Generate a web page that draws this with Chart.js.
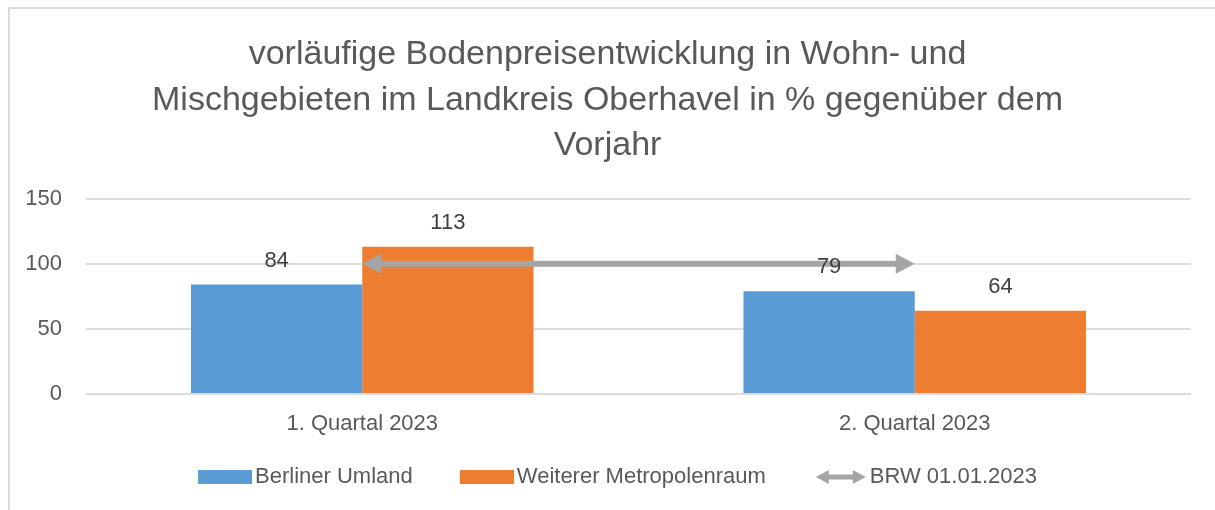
<!DOCTYPE html>
<html>
<head>
<meta charset="utf-8">
<script src="https://cdn.jsdelivr.net/npm/chart.js@4"></script>
<style>
  html, body { margin: 0; padding: 0; background: #fff; }
  #wrap { position: relative; width: 1215px; height: 510px; overflow: hidden; }
  #frame { position: absolute; left: 8px; top: 7px; width: 1300px; height: 600px;
           border: 2px solid #dcdcdc; box-sizing: border-box; }
  canvas { position: absolute; left: 0; top: 0; }
</style>
</head>
<body>
<div id="wrap">
  <div id="frame"></div>
  <canvas id="chart" width="1215" height="510"></canvas>
</div>
<script>
// data
const categories = ['1. Quartal 2023', '2. Quartal 2023'];
const berlinerUmland = [84, 79];
const weitererMetropolenraum = [113, 64];
const brw = [100, 100];
const seriesNames = ['Berliner Umland', 'Weiterer Metropolenraum', 'BRW 01.01.2023'];
const titleLines = [
    'vorläufige Bodenpreisentwicklung in Wohn- und',
    'Mischgebieten im Landkreis Oberhavel in % gegenüber dem',
    'Vorjahr'
];

const BLUE = '#5b9bd5';
const ORANGE = '#ed7d31';
const GREY = '#a5a5a5';
const TEXT = '#595959';
const FONT = '"Liberation Sans", Arial, sans-serif';

// legend icons: canvas a bit wider than the mark, mark sits on the right
const ICON_W = 82;
function legendBox(color) {
    const c = document.createElement('canvas');
    c.width = ICON_W; c.height = 16;
    const g = c.getContext('2d');
    g.fillStyle = color;
    g.fillRect(ICON_W - 54, 1, 54, 14);
    return c;
}

function legendArrow(color) {
    const c = document.createElement('canvas');
    c.width = ICON_W; c.height = 16;
    const g = c.getContext('2d');
    g.fillStyle = color;
    const l = ICON_W - 51, r = ICON_W - 1, cy = 8;
    g.fillRect(l + 11, cy - 2.5, (r - l) - 22, 5);
    g.beginPath();
    g.moveTo(l, cy); g.lineTo(l + 13, cy - 7); g.lineTo(l + 13, cy + 7); g.closePath();
    g.fill();
    g.beginPath();
    g.moveTo(r, cy); g.lineTo(r - 13, cy - 7); g.lineTo(r - 13, cy + 7); g.closePath();
    g.fill();
    return c;
}

const legendIcons = [legendBox(BLUE), legendBox(ORANGE), legendArrow(GREY)];

// double arrow for BRW + value labels on the bars
const overlayPlugin = {
    id: 'overlay',
    afterDatasetsDraw(chart) {
        const ctx = chart.ctx;
        const pts = chart.getDatasetMeta(2).data;
        if (pts.length === 2) {
            const x1 = pts[0].x, x2 = pts[1].x, y = pts[0].y;
            const head = 19, half = 10;
            ctx.save();
            ctx.fillStyle = GREY;
            ctx.fillRect(x1 + head - 1, y - 3, (x2 - x1) - 2 * head + 2, 6);
            ctx.beginPath();
            ctx.moveTo(x1, y); ctx.lineTo(x1 + head, y - half); ctx.lineTo(x1 + head, y + half);
            ctx.closePath(); ctx.fill();
            ctx.beginPath();
            ctx.moveTo(x2, y); ctx.lineTo(x2 - head, y - half); ctx.lineTo(x2 - head, y + half);
            ctx.closePath(); ctx.fill();
            ctx.restore();
        }

        ctx.save();
        ctx.font = '22px ' + FONT;
        ctx.fillStyle = '#404040';
        ctx.textAlign = 'center';
        ctx.textBaseline = 'middle';
        [0, 1].forEach(di => {
            const ds = chart.data.datasets[di];
            chart.getDatasetMeta(di).data.forEach((bar, i) => {
                ctx.fillText(String(ds.data[i]), bar.x, bar.y - 24);
            });
        });
        ctx.restore();
    }
};

new Chart(document.getElementById('chart'), {
    type: 'bar',
    data: {
        labels: categories,
        datasets: [
            {
                label: seriesNames[0],
                data: berlinerUmland,
                backgroundColor: BLUE,
                categoryPercentage: 0.62,
                barPercentage: 1.0
            },
            {
                label: seriesNames[1],
                data: weitererMetropolenraum,
                backgroundColor: ORANGE,
                categoryPercentage: 0.62,
                barPercentage: 1.0
            },
            {
                type: 'line',
                label: seriesNames[2],
                data: brw,
                borderColor: GREY,
                showLine: false,
                pointRadius: 0
            }
        ]
    },
    options: {
        responsive: false,
        animation: false,
        layout: { padding: { left: 24, right: 24, top: 0, bottom: 12 } },
        plugins: {
            tooltip: { enabled: false },
            title: {
                display: true,
                text: titleLines,
                color: TEXT,
                font: { family: FONT, size: 34, weight: 'normal', lineHeight: 1.34 },
                padding: { top: 32, bottom: 30 }
            },
            legend: {
                position: 'bottom',
                labels: {
                    usePointStyle: true,
                    pointStyleWidth: ICON_W - 16,
                    boxHeight: 16,
                    padding: 27,
                    color: TEXT,
                    font: { family: FONT, size: 22 },
                    generateLabels: (chart) => chart.data.datasets.map((ds, i) => ({
                        text: ds.label,
                        pointStyle: legendIcons[i],
                        fillStyle: 'transparent',
                        strokeStyle: 'transparent',
                        lineWidth: 0,
                        hidden: false,
                        datasetIndex: i,
                        fontColor: TEXT
                    }))
                }
            }
        },
        scales: {
            x: {
                grid: { display: false, drawTicks: false },
                border: { display: false },
                ticks: { color: TEXT, font: { family: FONT, size: 22 }, padding: 17 },
                afterFit: (scale) => { scale.height = 45; }
            },
            y: {
                min: 0,
                max: 150,
                grid: { color: '#dcdcdc', lineWidth: 2, drawTicks: false },
                border: { display: false },
                ticks: { stepSize: 50, color: TEXT, font: { family: FONT, size: 22 }, padding: 24 },
                afterFit: (scale) => { scale.width = 62; }
            }
        }
    },
    plugins: [overlayPlugin]
});
</script>
</body>
</html>
